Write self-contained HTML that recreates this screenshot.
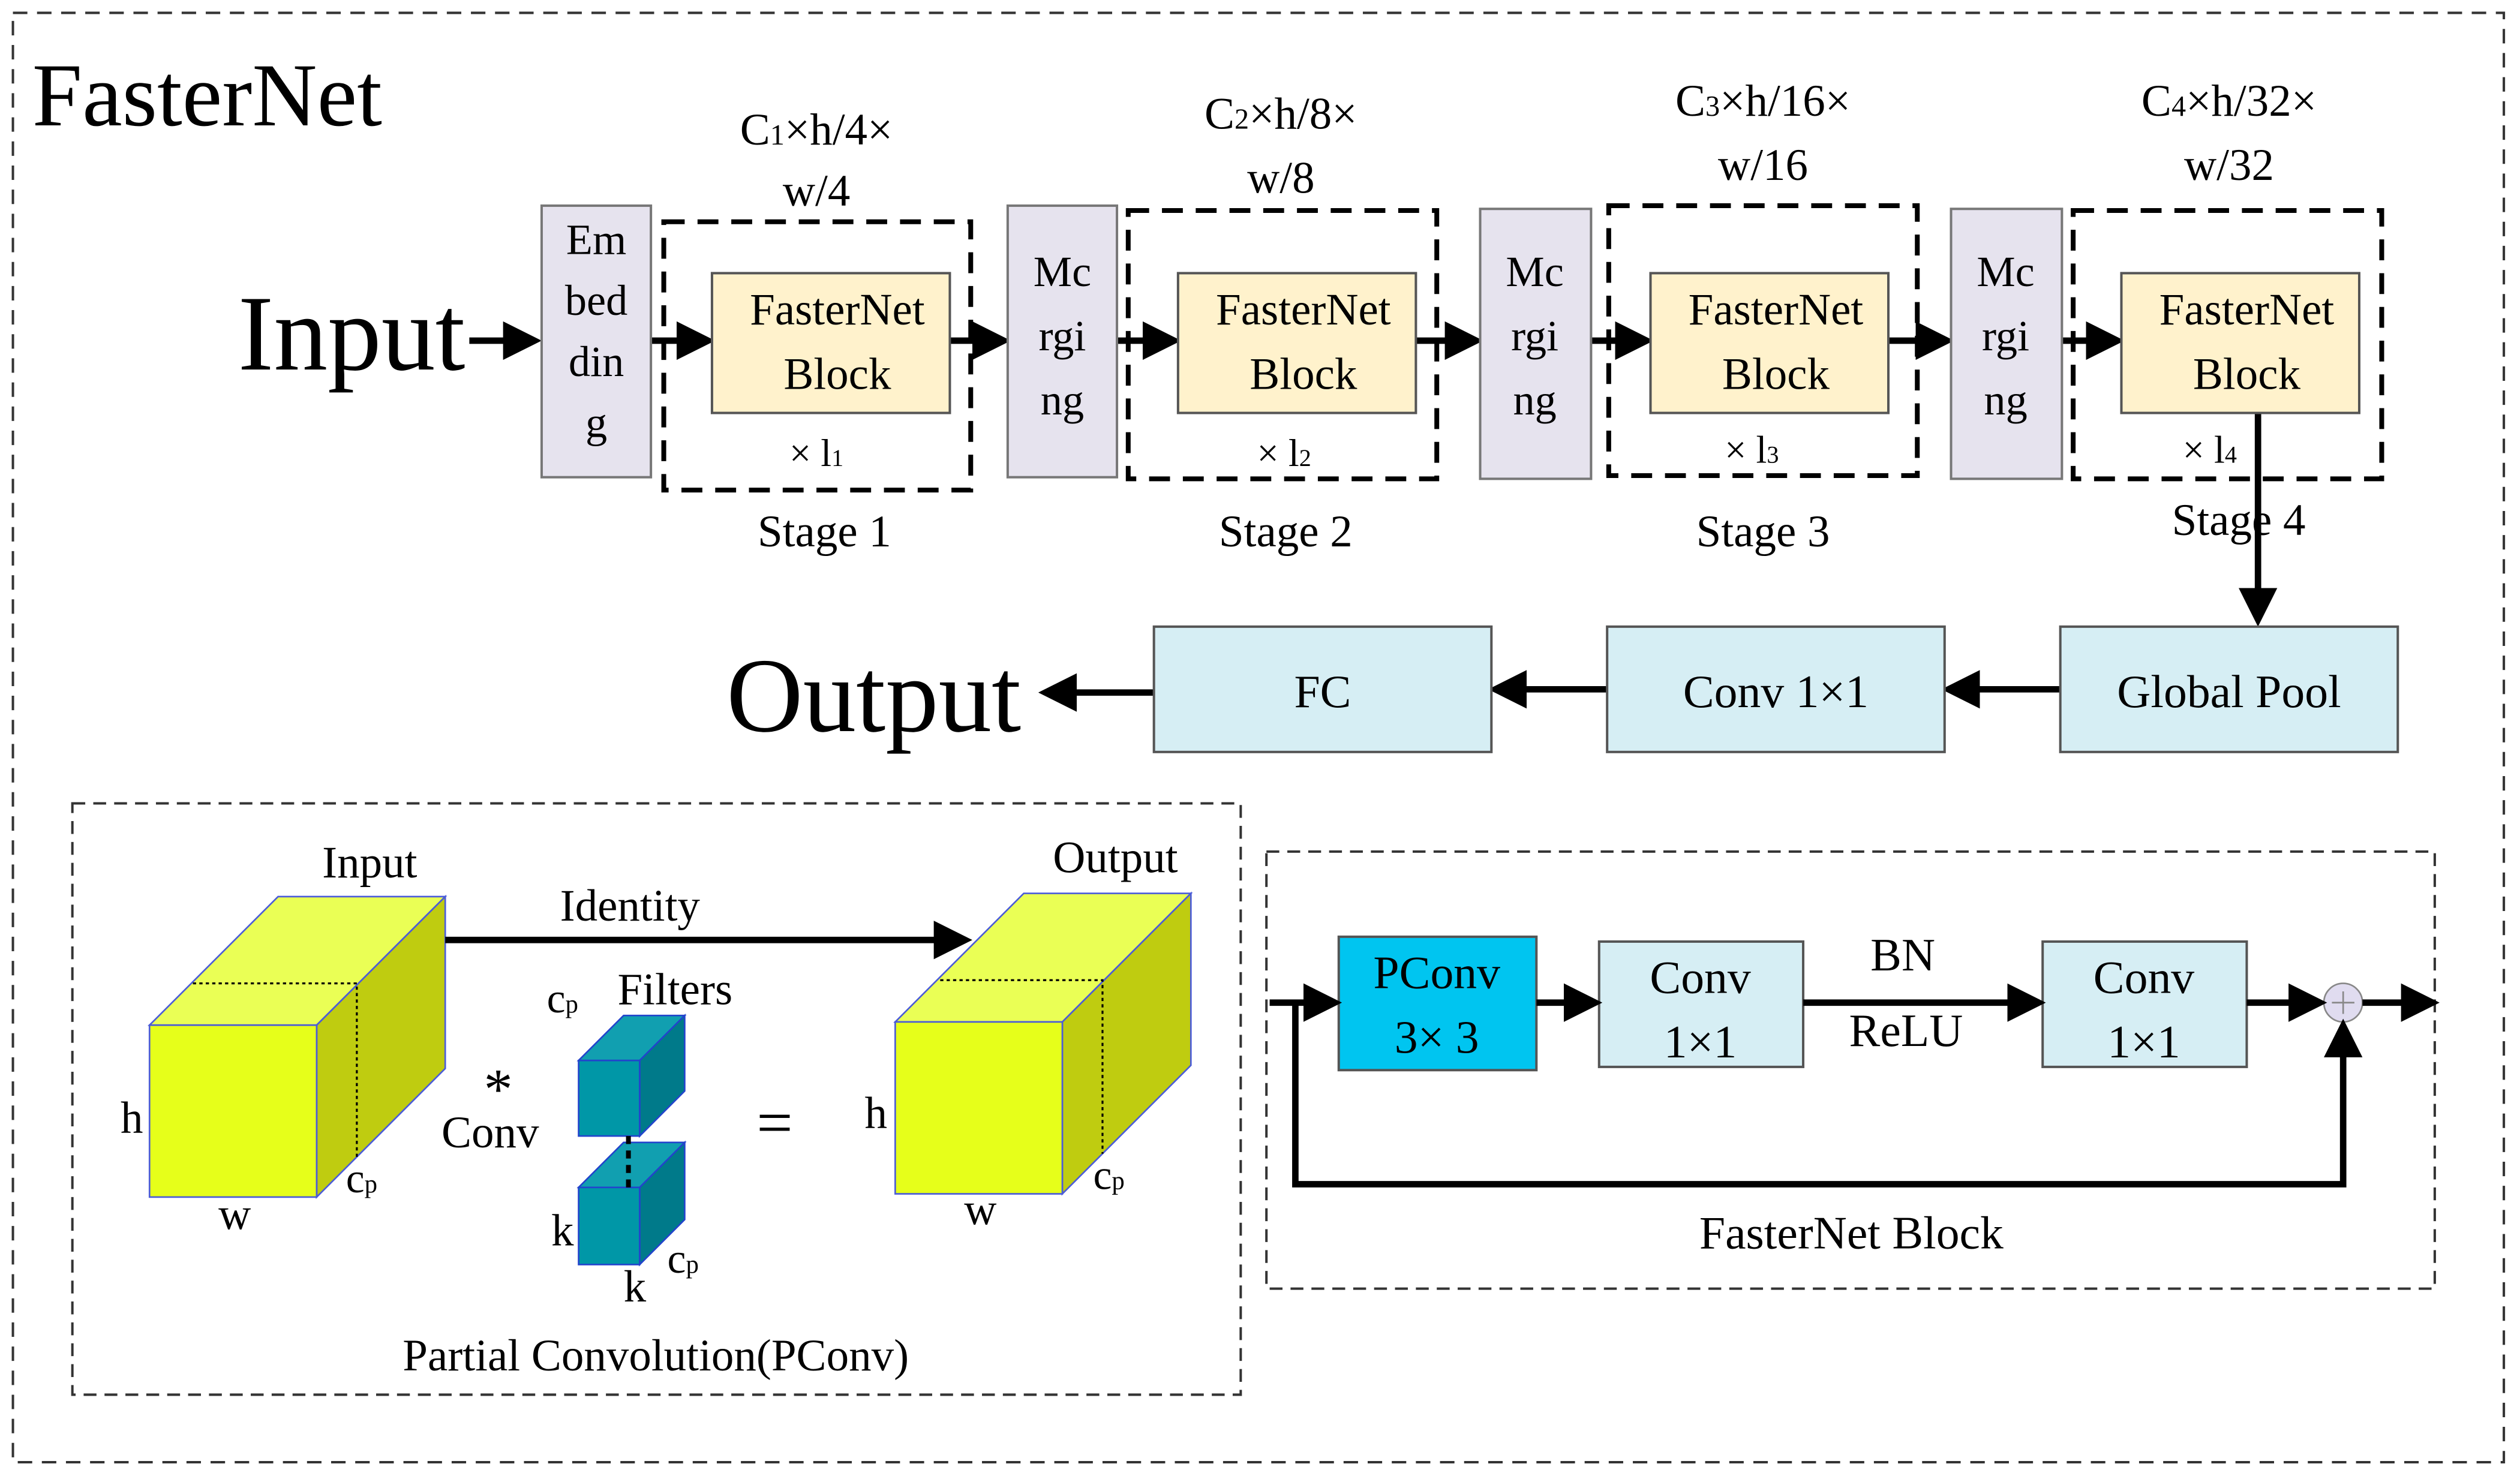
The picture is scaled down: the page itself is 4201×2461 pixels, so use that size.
<!DOCTYPE html>
<html><head><meta charset="utf-8"><style>
html,body{margin:0;padding:0;background:#fff;}
svg{display:block;}
text{font-family:"Liberation Serif",serif;fill:#000;}
</style></head><body>
<svg width="4201" height="2461" viewBox="0 0 1568 918.6" xmlns="http://www.w3.org/2000/svg">
<defs>
<marker id="ah" markerWidth="6" markerHeight="6" refX="5" refY="3" orient="auto" markerUnits="strokeWidth">
<path d="M0,0 L6,3 L0,6 z" fill="#000"/></marker>
</defs>
<rect x="8" y="8" width="1550" height="902" fill="none" stroke="#333" stroke-width="1.5" stroke-dasharray="9,6"/>
<text x="20" y="78" font-size="56">FasterNet</text>
<text x="148" y="230" font-size="67">Input</text>
<text x="452" y="455" font-size="66">Output</text>

<g stroke="#000" stroke-width="4" fill="none" marker-end="url(#ah)">
<line x1="292" y1="212" x2="333" y2="212"/>
<line x1="405" y1="212" x2="441" y2="212"/>
<line x1="591" y1="212" x2="625" y2="212"/>
<line x1="695" y1="212" x2="731" y2="212"/>
<line x1="881" y1="212" x2="919" y2="212"/>
<line x1="990" y1="212" x2="1025" y2="212"/>
<line x1="1175" y1="212" x2="1212" y2="212"/>
<line x1="1283" y1="212" x2="1318" y2="212"/>
<line x1="1405" y1="257" x2="1405" y2="386"/>
<line x1="1282" y1="429" x2="1212" y2="429"/>
<line x1="1000" y1="429" x2="930" y2="429"/>
<line x1="718" y1="431" x2="650" y2="431"/>
</g>

<g fill="#e6e3ee" stroke="#777" stroke-width="1.5">
<rect x="337" y="128" width="68" height="169"/>
<rect x="627" y="128" width="68" height="169"/>
<rect x="921" y="130" width="69" height="168"/>
<rect x="1214" y="130" width="69" height="168"/>
</g>
<g font-size="27" text-anchor="middle">
<text x="371" y="158">Em</text><text x="371" y="196">bed</text><text x="371" y="234">din</text><text x="371" y="272">g</text>
<text x="661" y="178">Mc</text><text x="661" y="218">rgi</text><text x="661" y="258">ng</text>
<text x="955" y="178">Mc</text><text x="955" y="218">rgi</text><text x="955" y="258">ng</text>
<text x="1248" y="178">Mc</text><text x="1248" y="218">rgi</text><text x="1248" y="258">ng</text>
</g>

<g fill="none" stroke="#000" stroke-width="3" stroke-dasharray="13,8">
<rect x="413" y="138" width="191" height="167"/>
<rect x="702" y="131" width="192" height="167"/>
<rect x="1001" y="128" width="192" height="168"/>
<rect x="1290" y="131" width="192" height="167"/>
</g>
<g fill="#fff2cc" stroke="#555" stroke-width="1.5">
<rect x="443" y="170" width="148" height="87"/>
<rect x="733" y="170" width="148" height="87"/>
<rect x="1027" y="170" width="148" height="87"/>
<rect x="1320" y="170" width="148" height="87"/>
</g>
<g font-size="28" text-anchor="middle">
<text x="521" y="202">FasterNet</text><text x="521" y="242">Block</text>
<text x="811" y="202">FasterNet</text><text x="811" y="242">Block</text>
<text x="1105" y="202">FasterNet</text><text x="1105" y="242">Block</text>
<text x="1398" y="202">FasterNet</text><text x="1398" y="242">Block</text>
<text x="508" y="290" font-size="24">× l<tspan font-size="15">1</tspan></text>
<text x="799" y="290" font-size="24">× l<tspan font-size="15">2</tspan></text>
<text x="1090" y="288" font-size="24">× l<tspan font-size="15">3</tspan></text>
<text x="1375" y="288" font-size="24">× l<tspan font-size="15">4</tspan></text>
<text x="508" y="90">C<tspan font-size="18">1</tspan>×h/4×</text><text x="508" y="128">w/4</text>
<text x="797" y="80">C<tspan font-size="18">2</tspan>×h/8×</text><text x="797" y="120">w/8</text>
<text x="1097" y="72">C<tspan font-size="18">3</tspan>×h/16×</text><text x="1097" y="112">w/16</text>
<text x="1387" y="72">C<tspan font-size="18">4</tspan>×h/32×</text><text x="1387" y="112">w/32</text>
<text x="513" y="340">Stage 1</text>
<text x="800" y="340">Stage 2</text>
<text x="1097" y="340">Stage 3</text>
<text x="1393" y="333">Stage 4</text>
</g>

<g fill="#d6eef4" stroke="#555" stroke-width="1.5">
<rect x="1282" y="390" width="210" height="78"/>
<rect x="1000" y="390" width="210" height="78"/>
<rect x="718" y="390" width="210" height="78"/>
</g>
<g font-size="29" text-anchor="middle">
<text x="1387" y="440">Global Pool</text>
<text x="1105" y="440">Conv 1×1</text>
<text x="823" y="440">FC</text>
</g>

<rect x="45" y="500" width="727" height="368" fill="none" stroke="#333" stroke-width="1.5" stroke-dasharray="8,5"/>
<g stroke="#4b5cd8" stroke-width="1">
<polygon points="93,638 173,558 277,558 197,638" fill="#eaff55"/>
<polygon points="197,638 277,558 277,665 197,745" fill="#bfcc10"/>
<rect x="93" y="638" width="104" height="107" fill="#e6ff1a"/>
<polygon points="557,636 637,556 741,556 661,636" fill="#eaff55"/>
<polygon points="661,636 741,556 741,663 661,743" fill="#bfcc10"/>
<rect x="557" y="636" width="104" height="107" fill="#e6ff1a"/>
</g>
<g stroke="#000" stroke-width="1.2" stroke-dasharray="2,2" fill="none">
<polyline points="120,612 222,612 222,720"/>
<polyline points="585,610 686,610 686,718"/>
</g>
<g stroke="#2244cc" stroke-width="1">
<polygon points="360,660 388,632 426,632 398,660" fill="#119fb0"/>
<polygon points="398,660 426,632 426,679 398,707" fill="#007a8a"/>
<rect x="360" y="660" width="38" height="47" fill="#0097a7"/>
<polygon points="360,739 388,711 426,711 398,739" fill="#119fb0"/>
<polygon points="398,739 426,711 426,759 398,787" fill="#007a8a"/>
<rect x="360" y="739" width="38" height="48" fill="#0097a7"/>
</g>
<line x1="391" y1="707" x2="391" y2="739" stroke="#000" stroke-width="3" stroke-dasharray="5,4"/>
<line x1="277" y1="585" x2="601" y2="585" stroke="#000" stroke-width="4" marker-end="url(#ah)"/>
<g font-size="28" text-anchor="middle">
<text x="230" y="546">Input</text>
<text x="694" y="543">Output</text>
<text x="392" y="573">Identity</text>
<text x="420" y="625">Filters</text>
<text x="350" y="630" font-size="26">c<tspan font-size="16">p</tspan></text>
<text x="310" y="690" font-size="36">*</text>
<text x="305" y="714">Conv</text>
<text x="482" y="712" font-size="40">=</text>
<text x="82" y="705">h</text>
<text x="146" y="765">w</text>
<text x="225" y="742" font-size="26">c<tspan font-size="16">p</tspan></text>
<text x="545" y="702">h</text>
<text x="610" y="762">w</text>
<text x="690" y="740" font-size="26">c<tspan font-size="16">p</tspan></text>
<text x="350" y="775">k</text>
<text x="425" y="792" font-size="26">c<tspan font-size="16">p</tspan></text>
<text x="395" y="810">k</text>
<text x="408" y="853">Partial Convolution(PConv)</text>
</g>

<rect x="788" y="530" width="727" height="272" fill="none" stroke="#333" stroke-width="1.5" stroke-dasharray="8,5"/>
<rect x="833" y="583" width="123" height="83" fill="#00c5f0" stroke="#555" stroke-width="1.5"/>
<rect x="995" y="586" width="127" height="78" fill="#d6eef4" stroke="#555" stroke-width="1.5"/>
<rect x="1271" y="586" width="127" height="78" fill="#d6eef4" stroke="#555" stroke-width="1.5"/>
<circle cx="1458" cy="624" r="12" fill="#e0dcf0" stroke="#888" stroke-width="1"/>
<line x1="1451" y1="624" x2="1465" y2="624" stroke="#888" stroke-width="1"/>
<line x1="1458" y1="617" x2="1458" y2="631" stroke="#888" stroke-width="1"/>
<g stroke="#000" stroke-width="4" fill="none" marker-end="url(#ah)">
<line x1="790" y1="624" x2="831" y2="624"/>
<line x1="956" y1="624" x2="993" y2="624"/>
<line x1="1122" y1="624" x2="1269" y2="624"/>
<line x1="1398" y1="624" x2="1444" y2="624"/>
<line x1="1470" y1="624" x2="1514" y2="624"/>
<polyline points="806,624 806,737 1458,737 1458,638"/>
</g>
<g font-size="29" text-anchor="middle">
<text x="894" y="615">PConv</text><text x="894" y="655">3× 3</text>
<text x="1058" y="618">Conv</text><text x="1058" y="658">1×1</text>
<text x="1334" y="618">Conv</text><text x="1334" y="658">1×1</text>
<text x="1184" y="604">BN</text>
<text x="1186" y="651">ReLU</text>
<text x="1152" y="777">FasterNet Block</text>
</g>
</svg>
</body></html>
